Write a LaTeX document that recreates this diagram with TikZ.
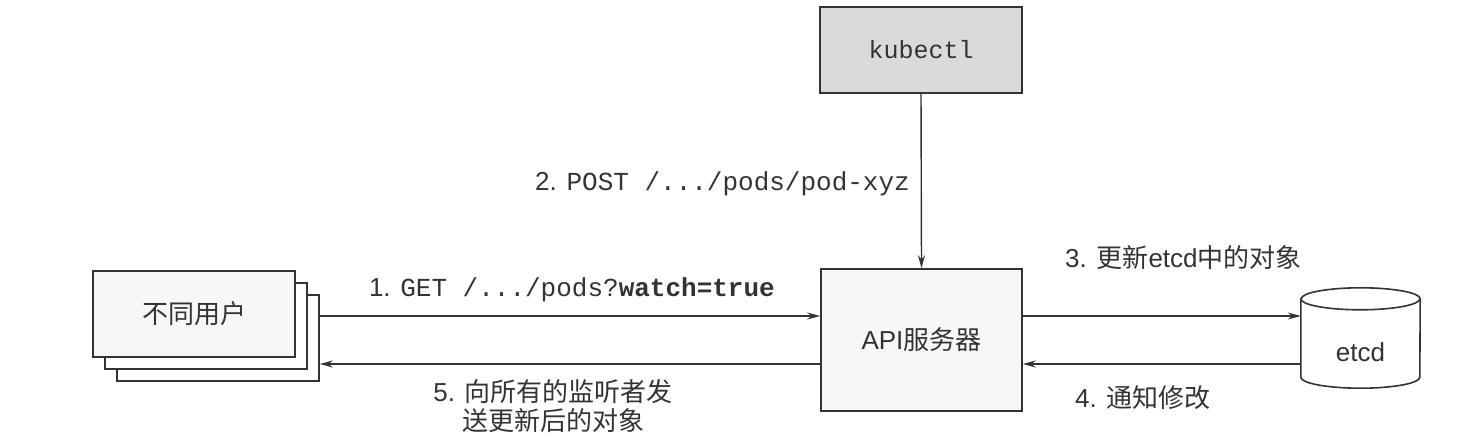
\documentclass[tikz,border=0pt]{standalone}
\usepackage{fontspec}
\setmainfont{Liberation Sans}
\setmonofont{Liberation Mono}
\newfontfamily\cjk{Noto Sans CJK SC}
\usetikzlibrary{arrows.meta}
\definecolor{ink}{HTML}{333333}
\definecolor{kgray}{HTML}{DADADA}
\definecolor{pale}{HTML}{F7F7F7}
\begin{document}
\begin{tikzpicture}[x=1pt,y=1pt,
  box/.style={draw=ink, line width=1.6pt, fill=white, inner sep=0pt, text=ink,
    font=\fontsize{26}{30}\selectfont},
  conn/.style={draw=ink, line width=1.4pt, -{Stealth[length=13pt,width=7pt]}},
  lbl/.style={text=ink, font=\fontsize{26}{29}\selectfont, inner sep=0pt},
  mono/.style={font=\ttfamily\fontsize{26}{30}\selectfont}]
\useasboundingbox (0,0) rectangle (1466,444);
% user stack
\node[box, minimum width=202pt, minimum height=86pt] (u3) at (218,106) {};
\node[box, minimum width=202pt, minimum height=86pt] (u2) at (206,118) {};
\node[box, fill=pale, minimum width=202pt, minimum height=86pt] (u1) at (194,130) {\cjk 不同用户};
% api server
\node[box, fill=pale, minimum width=201pt, minimum height=142pt] (api) at (921.5,104) {API{\cjk 服务器}};
% kubectl
\node[box, fill=kgray, minimum width=202pt, minimum height=86pt] (kub) at (921,394) {\ttfamily\fontsize{25}{30}\selectfont kubectl};
% etcd cylinder
\node[inner sep=0pt, minimum width=119pt, minimum height=78pt] (etcd) at (1360.5,106) {};
\draw[ink, line width=1.6pt] (etcd.north west) -- (etcd.south west) arc (180:360:59.5 and 11)
  -- (etcd.north east) arc (0:180:59.5 and 11) -- cycle;
\draw[ink, line width=1.6pt] (etcd.north west) arc (180:360:59.5 and 11);
\node[lbl] (etcdtxt) at (1360.5,92) {etcd};
% rows
\coordinate (r1) at (0,128);
\coordinate (r2) at (0,80);
% connectors
\draw[conn] (u3.east |- r1) -- (api.west |- r1);
\draw[conn] (api.west |- r2) -- (u3.east |- r2);
\draw[conn] (kub.south) -- (api.north);
\draw[conn] (api.east |- r1) -- (etcd.west |- r1);
\draw[conn] (etcd.west |- r2) -- (api.east |- r2);
% labels
\node[lbl, anchor=east] (l1) at (775,154) {1. {\ttfamily\fontsize{26}{30}\selectfont GET /.../pods?\textbf{watch=true}}};
\node[lbl, anchor=east] (l2) at (910,260) {2. {\ttfamily\fontsize{26}{30}\selectfont POST /.../pods/pod-xyz}};
\node[lbl, anchor=west] (l3) at (1065,186) {3. {\cjk 更新}etcd{\cjk 中的对象}};
\node[lbl, anchor=west] (l4) at (1075,46) {4. {\cjk 通知修改}};
\node[lbl, align=center] (l5) at (553,38) {5. {\cjk 向所有的监听者发}\\{\cjk 送更新后的对象}};
\end{tikzpicture}
\end{document}
